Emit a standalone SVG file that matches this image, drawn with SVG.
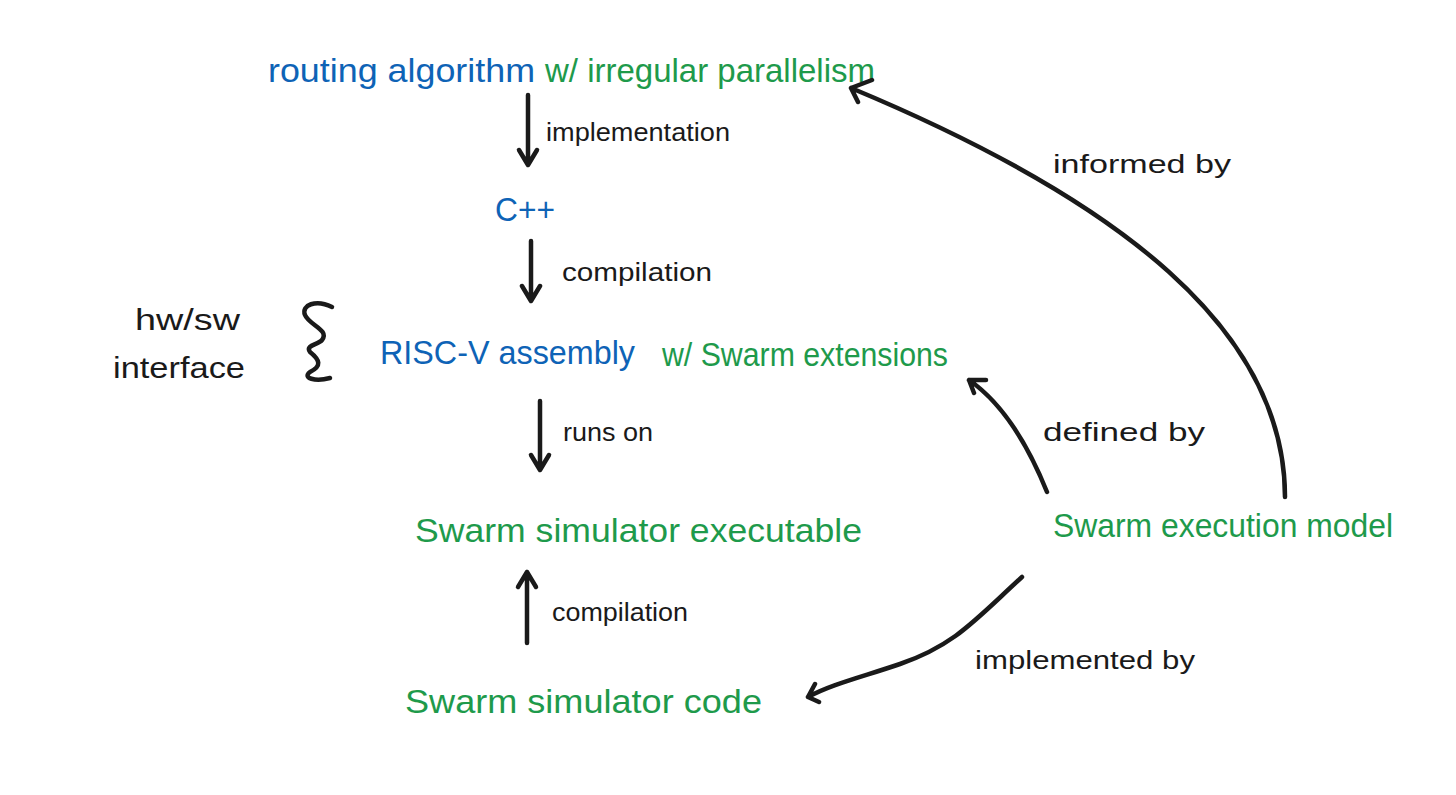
<svg xmlns="http://www.w3.org/2000/svg" width="1456" height="795" viewBox="0 0 1456 795">
<style>
text { font-family: "Liberation Sans", "DejaVu Sans", sans-serif; }
.node { font-size: 34px; }
.blue { fill: #0e63b6; }
.green { fill: #1e9a4b; }
.lbl { font-size: 26px; fill: #1a1a1a; }
.conn { fill: none; stroke: #1a1a1a; stroke-width: 4.5; stroke-linecap: round; stroke-linejoin: round; }
</style>
<rect width="1456" height="795" fill="#ffffff"/>
<g id="node-routing">
<text class="node blue" x="268" y="82" textLength="267" lengthAdjust="spacingAndGlyphs">routing algorithm</text>
<text class="node green" x="545" y="82" textLength="330" lengthAdjust="spacingAndGlyphs">w/ irregular parallelism</text>
</g>
<g id="node-cpp">
<text class="node blue" x="495" y="221" textLength="60" lengthAdjust="spacingAndGlyphs">C++</text>
</g>
<g id="node-riscv">
<text class="node blue" x="380" y="364" textLength="255" lengthAdjust="spacingAndGlyphs">RISC-V assembly</text>
<text class="node green" x="662" y="366" textLength="286" lengthAdjust="spacingAndGlyphs">w/ Swarm extensions</text>
</g>
<g id="node-hwsw">
<text class="lbl" style="font-size:30px" x="135" y="330" textLength="105" lengthAdjust="spacingAndGlyphs">hw/sw</text>
<text class="lbl" style="font-size:30px" x="113" y="378" textLength="132" lengthAdjust="spacingAndGlyphs">interface</text>
<path class="conn" d="M332,307 C316,299 301,305 305,315 C309,325 330,330 322,340 C318,345 305,345 310,352 C320,360 322,366 310,372 C302,378 315,382 330,378"/>
</g>
<g id="node-executable">
<text class="node green" x="415" y="542" textLength="447" lengthAdjust="spacingAndGlyphs">Swarm simulator executable</text>
</g>
<g id="node-code">
<text class="node green" x="405" y="713" textLength="357" lengthAdjust="spacingAndGlyphs">Swarm simulator code</text>
</g>
<g id="node-model">
<text class="node green" x="1053" y="537" textLength="340" lengthAdjust="spacingAndGlyphs">Swarm execution model</text>
</g>
<g id="connectors">
<path class="conn" d="M528,95 L528,165 M519,150 L528,165 L537,150"/>
<path class="conn" d="M531,241 L531,301 M522,286 L531,301 L540,286"/>
<path class="conn" d="M540,401 L540,470 M531,455 L540,470 L549,455"/>
<path class="conn" d="M527,643 L527,572 M518,587 L527,572 L536,587"/>
<path class="conn" d="M1285,497 C1285,330 1120,200 851,88 M872,80 L851,88 L858,102"/>
<path class="conn" d="M1047,492 C1030,450 1005,405 969,380 M986,380 L969,380 L974,393"/>
<path class="conn" d="M1022,577 C975,620 955,645 900,664 C862,677 832,684 808,697 M815,684 L808,697 L819,702"/>
<text class="lbl" x="546" y="141" textLength="184" lengthAdjust="spacingAndGlyphs">implementation</text>
<text class="lbl" x="562" y="281" textLength="150" lengthAdjust="spacingAndGlyphs">compilation</text>
<text class="lbl" x="563" y="441" textLength="90" lengthAdjust="spacingAndGlyphs">runs on</text>
<text class="lbl" x="552" y="621" textLength="136" lengthAdjust="spacingAndGlyphs">compilation</text>
<text class="lbl" x="1053" y="173" textLength="178" lengthAdjust="spacingAndGlyphs">informed by</text>
<text class="lbl" x="1043" y="441" textLength="162" lengthAdjust="spacingAndGlyphs">defined by</text>
<text class="lbl" x="975" y="669" textLength="220" lengthAdjust="spacingAndGlyphs">implemented by</text>
</g>
</svg>
